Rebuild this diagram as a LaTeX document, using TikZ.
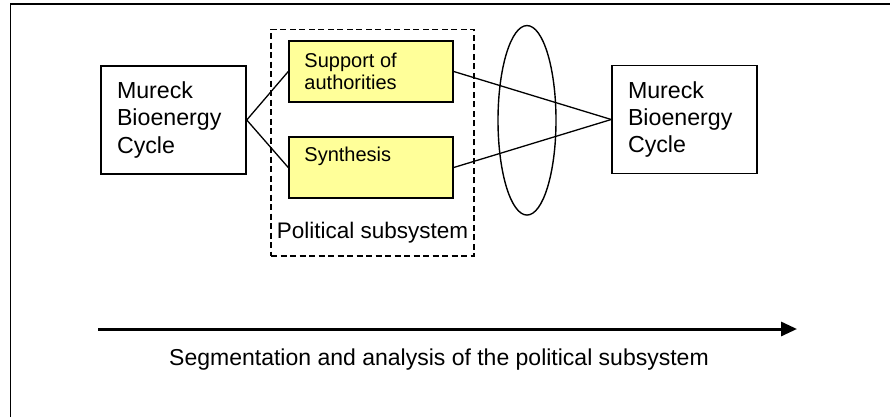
\documentclass[tikz,border=0pt]{standalone}
\usepackage{fontspec}
\setmainfont{Liberation Sans}
\usetikzlibrary{arrows.meta,shapes.geometric}
\definecolor{noteyellow}{HTML}{FFFF99}
\begin{document}
\begin{tikzpicture}[x=1pt,y=-1pt,
  bigfont/.style={font=\fontsize{22.5}{27.3}\selectfont},
  cyclefont/.style={font=\fontsize{23.2}{27.3}\selectfont},
  smallfont/.style={font=\fontsize{20}{22.4}\selectfont},
  cyclebox/.style={draw, line width=1.5pt, minimum width=145pt, minimum height=108pt,
    text width=113pt, inner xsep=16pt, inner ysep=0pt, align=left, cyclefont},
  partbox/.style={draw, line width=1.5pt, fill=noteyellow, minimum width=164pt,
    minimum height=61pt, inner sep=0pt},
  parttext/.style={anchor=north west, align=left, inner sep=0pt, smallfont},
  conn/.style={line width=1.3pt},
  groupbox/.style={draw, line width=1.4pt, dash pattern=on 6pt off 3.5pt,
    minimum width=203pt, minimum height=226.7pt, inner sep=0pt},
  lens/.style={draw, ellipse, line width=1.4pt, minimum width=58pt,
    minimum height=189.5pt, inner sep=0pt},
  timeline/.style={line width=3pt, -{Triangle[length=16pt,width=14pt]}}
]
\useasboundingbox (0,0) rectangle (890,417);

% outer frame (top and left edges)
\draw[line width=1.6pt] (10.5,417) -- (10.5,4.3) -- (890,4.3);

% grouping of the political subsystem
\node[groupbox] (polsys) at (372.5,142.6) {};
\node[bigfont, anchor=base, inner sep=0pt] (pollabel) at (372.5,238.3) {Political subsystem};

% the two cycle boxes
\node[cyclebox] (cycleL) at (173.5,120) {Mureck\\Bioenergy\\Cycle};
\node[cyclebox] (cycleR) at (684.5,119.5) {Mureck\\Bioenergy\\Cycle};

% parts of the political subsystem
\node[partbox] (sup) at (371,71.5) {};
\node[parttext] (suptext) at ([xshift=16pt,yshift=-12.5pt]sup.north west) {Support of\\authorities};
\node[partbox] (syn) at (371,167.5) {};
\node[parttext] (syntext) at ([xshift=16pt,yshift=-11pt]syn.north west) {Synthesis};

% lens
\node[lens] (lensnode) at (527,120.3) {};

% connectors
\draw[conn] (cycleL.east) -- (sup.west);
\draw[conn] (cycleL.east) -- (syn.west);
\draw[conn] (sup.east) -- (cycleR.west);
\draw[conn] (syn.east) -- (cycleR.west);

% time line
\coordinate (tstart) at (98,329);
\coordinate (tend) at (797,329);
\draw[timeline] (tstart) -- (tend);
\node[font=\fontsize{23}{27}\selectfont, anchor=base, inner sep=0pt] (caption) at (439,365)
  {Segmentation and analysis of the political subsystem};
\end{tikzpicture}
\end{document}
